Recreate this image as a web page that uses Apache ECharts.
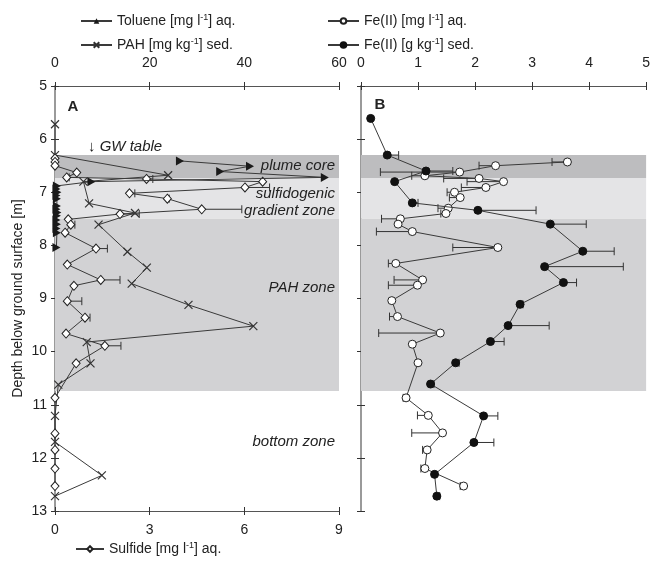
<!DOCTYPE html>
<html>
<head>
<meta charset="utf-8">
<script src="https://cdn.jsdelivr.net/npm/echarts@6/dist/echarts.min.js"></script>
<style>
html,body{margin:0;padding:0;background:#fff;}
#chart{width:653px;height:563px;}
</style>
</head>
<body>
<div id="chart"></div>
<script>
// ---------- Panel A data ----------
const tolueneDepth = [6.41, 6.51, 6.61, 6.72, 6.80, 6.88, 6.94, 7.00, 7.06, 7.12, 7.26, 7.32, 7.38, 7.44, 7.52, 7.60, 7.68, 7.76, 8.04];
const tolueneVal   = [26.4, 41.2, 34.9, 57.0, 7.7, 0.4, 0.3, 0.5, 0.3, 0.4, 0.4, 0.3, 0.5, 0.4, 0.3, 0.4, 0.3, 0.4, 0.3];

const pahDepth = [5.72, 6.30, 6.68, 6.80, 7.21, 7.39, 7.61, 8.12, 8.42, 8.72, 9.12, 9.52, 9.82, 10.22, 10.62, 11.21, 11.70, 12.33, 12.72];
const pahVal   = [0, 0, 23.9, 6.0, 7.2, 16.9, 9.2, 15.3, 19.4, 16.2, 28.2, 41.9, 6.7, 7.5, 0.7, 0, 0, 9.9, 0];

const sulfideDepth = [6.36, 6.43, 6.50, 6.63, 6.72, 6.75, 6.80, 6.91, 7.02, 7.12, 7.32, 7.41, 7.51, 7.61, 7.76, 8.06, 8.36, 8.65, 8.76, 9.05, 9.36, 9.66, 9.89, 10.22, 10.87, 11.54, 11.85, 12.20, 12.53];
const sulfideVal   = [0, 0, 0, 0.69, 0.37, 2.9, 6.58, 6.02, 2.36, 3.56, 4.65, 2.06, 0.42, 0.5, 0.32, 1.30, 0.39, 1.45, 0.60, 0.39, 0.95, 0.35, 1.58, 0.67, 0, 0, 0, 0, 0];
const sulfideErrEnd = [null, null, null, null, 0.45, 3.1, null, 6.8, 2.53, 3.62, 5.92, 2.67, null, 0.63, null, 1.66, null, 2.06, null, 0.85, 1.11, null, 2.09, null, null, null, null, null, null];

// ---------- Panel B data ----------
const feAqDepth = [6.43, 6.50, 6.62, 6.69, 6.74, 6.80, 6.91, 7.00, 7.10, 7.30, 7.40, 7.50, 7.60, 7.74, 8.04, 8.34, 8.65, 8.75, 9.04, 9.34, 9.65, 9.86, 10.21, 10.87, 11.20, 11.53, 11.85, 12.20, 12.53];
const feAqVal   = [3.62, 2.36, 1.73, 1.12, 2.07, 2.50, 2.19, 1.64, 1.74, 1.53, 1.49, 0.69, 0.65, 0.90, 2.40, 0.61, 1.08, 0.99, 0.54, 0.64, 1.39, 0.90, 1.00, 0.79, 1.18, 1.43, 1.16, 1.12, 1.80];
const feAqErrEnd = [3.35, 2.07, 0.34, 0.89, 1.45, 1.86, 1.76, 1.51, 1.55, 1.35, 1.40, 0.36, null, 0.27, 1.61, 0.48, 0.58, 0.48, null, 0.50, 0.31, null, null, 0.74, 0.99, 0.89, 1.08, 1.05, 1.74];

const feSedDepth = [5.61, 6.30, 6.60, 6.80, 7.20, 7.34, 7.60, 8.11, 8.40, 8.70, 9.11, 9.51, 9.81, 10.21, 10.61, 11.21, 11.71, 12.31, 12.72];
const feSedVal   = [0.17, 0.46, 1.14, 0.59, 0.90, 2.05, 3.32, 3.89, 3.22, 3.55, 2.79, 2.58, 2.27, 1.66, 1.22, 2.15, 1.98, 1.29, 1.33];
const feSedErrEnd = [null, 0.66, 1.61, null, 1.0, 3.07, 3.95, 4.44, 4.6, 3.78, 2.84, 3.30, 2.51, 1.72, 1.28, 2.40, 2.33, null, 1.38];

// ---------- Zones (depth, m) ----------
const zoneNames = ['plume core', 'sulfidogenic gradient zone', 'PAH zone'];
const zoneTop    = [6.30, 6.73, 7.50];
const zoneBottom = [6.73, 7.50, 10.74];
const zoneColors = ['#bdbdbf', '#e4e4e6', '#d2d2d4'];

// ---------- Axis ticks ----------
const depthMin = 5, depthMax = 13, depthStep = 1;
const topAMax = 60, topAStep = 20;
const botAMax = 9, botAStep = 3;
const topBMax = 5, topBStep = 1;

// ---------- Series names ----------
const N_TOL = 'Toluene [mg l-1] aq.';
const N_PAH = 'PAH [mg kg-1] sed.';
const N_SUL = 'Sulfide [mg l-1] aq.';
const N_FEAQ = 'Fe(II) [mg l-1] aq.';
const N_FESED = 'Fe(II) [g kg-1] sed.';

const FONT = '"Liberation Sans", Arial, sans-serif';
const INK = '#222';
const LINE = '#3a3a3a';

function pairs(vals, depths) { return vals.map((v, i) => [v, depths[i]]); }
function errPairs(vals, depths, ends) {
  const out = [];
  vals.forEach((v, i) => { if (ends[i] !== null) out.push([v, depths[i], ends[i]]); });
  return out;
}
function errRender(params, api) {
  const x = api.value(0), d = api.value(1), e = api.value(2);
  const p0 = api.coord([x, d]);
  const p1 = api.coord([e, d]);
  const st = { stroke: '#333', lineWidth: 1 };
  return {
    type: 'group',
    children: [
      { type: 'line', shape: { x1: p0[0], y1: p0[1], x2: p1[0], y2: p1[1] }, style: st },
      { type: 'line', shape: { x1: p1[0], y1: p1[1] - 4, x2: p1[0], y2: p1[1] + 4 }, style: st }
    ]
  };
}
function legendFmt(name) {
  const i = name.indexOf('-1');
  if (i < 0) return '{n|' + name + '}';
  return '{n|' + name.slice(0, i) + '}{s|-1}{n|' + name.slice(i + 2) + '}';
}
const legendRich = {
  n: { fontSize: 14, color: INK, fontFamily: FONT },
  s: { fontSize: 9, color: INK, fontFamily: FONT, padding: [0, 0, 7, 0] }
};

function xAxisMain(grid, pos, max, step) {
  return {
    type: 'value', gridIndex: grid, position: pos, min: 0, max: max, interval: step,
    axisLine: { show: true, onZero: false, lineStyle: { color: '#555', width: 1 } },
    axisTick: { show: true, inside: false, length: 4, lineStyle: { color: '#333' } },
    axisLabel: { show: true, color: INK, fontSize: 14, fontFamily: FONT, margin: pos === 'top' ? 16 : 12 },
    splitLine: { show: false }
  };
}
function xAxisDup(grid, pos, max, step) {
  return {
    type: 'value', gridIndex: grid, position: pos, min: 0, max: max, interval: step,
    axisLine: { show: false, onZero: false },
    axisTick: { show: true, inside: true, length: 4, lineStyle: { color: '#333' } },
    axisLabel: { show: false },
    splitLine: { show: false }
  };
}
function yAxisMain(grid, labels) {
  return {
    type: 'value', gridIndex: grid, position: 'left', inverse: true,
    min: depthMin, max: depthMax, interval: depthStep,
    axisLine: { show: true, onZero: false, lineStyle: { color: '#9a9a9a', width: 2 } },
    axisTick: { show: true, inside: false, length: 4, lineStyle: { color: '#333' } },
    axisLabel: { show: labels, color: INK, fontSize: 14, fontFamily: FONT, margin: 8 },
    splitLine: { show: false },
    name: labels ? 'Depth below ground surface [m]' : '',
    nameLocation: 'middle', nameGap: 30,
    nameTextStyle: { color: INK, fontSize: 14, fontFamily: FONT }
  };
}
function yAxisDup(grid) {
  return {
    type: 'value', gridIndex: grid, position: 'left', inverse: true,
    min: depthMin, max: depthMax, interval: depthStep,
    axisLine: { show: false, onZero: false },
    axisTick: { show: true, inside: true, length: 4, lineStyle: { color: '#333' } },
    axisLabel: { show: false },
    splitLine: { show: false }
  };
}

function zoneArea() {
  return {
    silent: true,
    data: zoneTop.map((t, i) => [
      { yAxis: t, itemStyle: { color: zoneColors[i], opacity: 1 } },
      { yAxis: zoneBottom[i] }
    ])
  };
}

const xSymbol = 'path://M0,0L10,10M10,0L0,10';

function annot(text, x, y, style, align) {
  return { type: 'text', x: x, y: y, silent: true, z: 10,
    style: { text: text, font: style + ' 15px ' + FONT, fill: INK, align: align, verticalAlign: 'middle',
      textAlign: align, textVerticalAlign: 'middle' } };
}

const option = {
  animation: false,
  backgroundColor: '#fff',
  grid: [
    { left: 55, top: 86, width: 284, height: 425 },
    { left: 361, top: 86, width: 286, height: 425 }
  ],
  xAxis: [
    xAxisMain(0, 'top', topAMax, topAStep),      // 0: toluene / PAH
    xAxisMain(0, 'bottom', botAMax, botAStep),   // 1: sulfide
    xAxisMain(1, 'top', topBMax, topBStep),      // 2: Fe(II)
    xAxisDup(0, 'top', topAMax, topAStep),
    xAxisDup(0, 'bottom', botAMax, botAStep),
    xAxisDup(1, 'top', topBMax, topBStep)
  ],
  yAxis: [
    yAxisMain(0, true),
    yAxisMain(1, false),
    yAxisDup(0),
    yAxisDup(1)
  ],
  legend: [
    {
      data: [N_TOL, N_PAH], orient: 'vertical', left: 80, top: 13, padding: 0,
      itemWidth: 31, itemHeight: 7, itemGap: 9, selectedMode: false, symbolRotate: 0,
      formatter: legendFmt, textStyle: { rich: legendRich }
    },
    {
      data: [N_FEAQ, N_FESED], orient: 'vertical', left: 327, top: 13, padding: 0,
      itemWidth: 31, itemHeight: 7, itemGap: 9, selectedMode: false,
      formatter: legendFmt, textStyle: { rich: legendRich }
    },
    {
      data: [N_SUL], orient: 'horizontal', left: 75, top: 541, padding: 0,
      itemWidth: 28, itemHeight: 7, selectedMode: false,
      formatter: legendFmt, textStyle: { rich: legendRich }
    }
  ],
  series: [
    // zone bands
    { type: 'line', xAxisIndex: 0, yAxisIndex: 0, data: [], z: 0, silent: true, markArea: zoneArea() },
    { type: 'line', xAxisIndex: 2, yAxisIndex: 1, data: [], z: 0, silent: true, markArea: zoneArea() },
    // error bars
    { type: 'custom', xAxisIndex: 1, yAxisIndex: 0, z: 1, silent: true, renderItem: errRender,
      data: errPairs(sulfideVal, sulfideDepth, sulfideErrEnd) },
    { type: 'custom', xAxisIndex: 2, yAxisIndex: 1, z: 1, silent: true, renderItem: errRender,
      data: errPairs(feAqVal, feAqDepth, feAqErrEnd) },
    { type: 'custom', xAxisIndex: 2, yAxisIndex: 1, z: 1, silent: true, renderItem: errRender,
      data: errPairs(feSedVal, feSedDepth, feSedErrEnd) },
    // Panel A lines
    { name: N_PAH, type: 'line', xAxisIndex: 0, yAxisIndex: 0, z: 3, silent: true,
      data: pairs(pahVal, pahDepth), symbol: xSymbol, symbolSize: 8, showAllSymbol: true,
      lineStyle: { color: LINE, width: 1 },
      itemStyle: { color: '#333', borderColor: '#333', borderWidth: 1.2 } },
    { name: N_SUL, type: 'line', xAxisIndex: 1, yAxisIndex: 0, z: 4, silent: true,
      data: pairs(sulfideVal, sulfideDepth), symbol: 'diamond', symbolSize: [8, 9], showAllSymbol: true,
      lineStyle: { color: LINE, width: 1 },
      itemStyle: { color: '#fff', borderColor: '#222', borderWidth: 1 } },
    { name: N_TOL, type: 'line', xAxisIndex: 0, yAxisIndex: 0, z: 5, silent: true,
      data: pairs(tolueneVal, tolueneDepth), symbol: 'triangle', symbolRotate: -90, symbolSize: [9, 8], showAllSymbol: true,
      lineStyle: { color: LINE, width: 1 },
      itemStyle: { color: '#1a1a1a', borderColor: '#1a1a1a', borderWidth: 0 } },
    // Panel B lines
    { name: N_FEAQ, type: 'line', xAxisIndex: 2, yAxisIndex: 1, z: 4, silent: true,
      data: pairs(feAqVal, feAqDepth), symbol: 'circle', symbolSize: 8, showAllSymbol: true,
      lineStyle: { color: LINE, width: 1 },
      itemStyle: { color: '#fff', borderColor: '#222', borderWidth: 1 } },
    { name: N_FESED, type: 'line', xAxisIndex: 2, yAxisIndex: 1, z: 5, silent: true,
      data: pairs(feSedVal, feSedDepth), symbol: 'circle', symbolSize: 8, showAllSymbol: true,
      lineStyle: { color: LINE, width: 1 },
      itemStyle: { color: '#111', borderColor: '#111', borderWidth: 1 } }
  ],
  graphic: [
    annot('A', 73, 107, 'bold', 'center'),
    annot('B', 380, 105, 'bold', 'center'),
    annot('\u2193 GW table', 88, 147, 'italic', 'left'),
    annot('plume core', 335, 166, 'italic', 'right'),
    annot('sulfidogenic', 335, 194, 'italic', 'right'),
    annot('gradient zone', 335, 211, 'italic', 'right'),
    annot('PAH zone', 335, 288, 'italic', 'right'),
    annot('bottom zone', 335, 442, 'italic', 'right')
  ]
};

const chart = echarts.init(document.getElementById('chart'), null, { renderer: 'canvas' });
chart.setOption(option);
</script>
</body>
</html>
